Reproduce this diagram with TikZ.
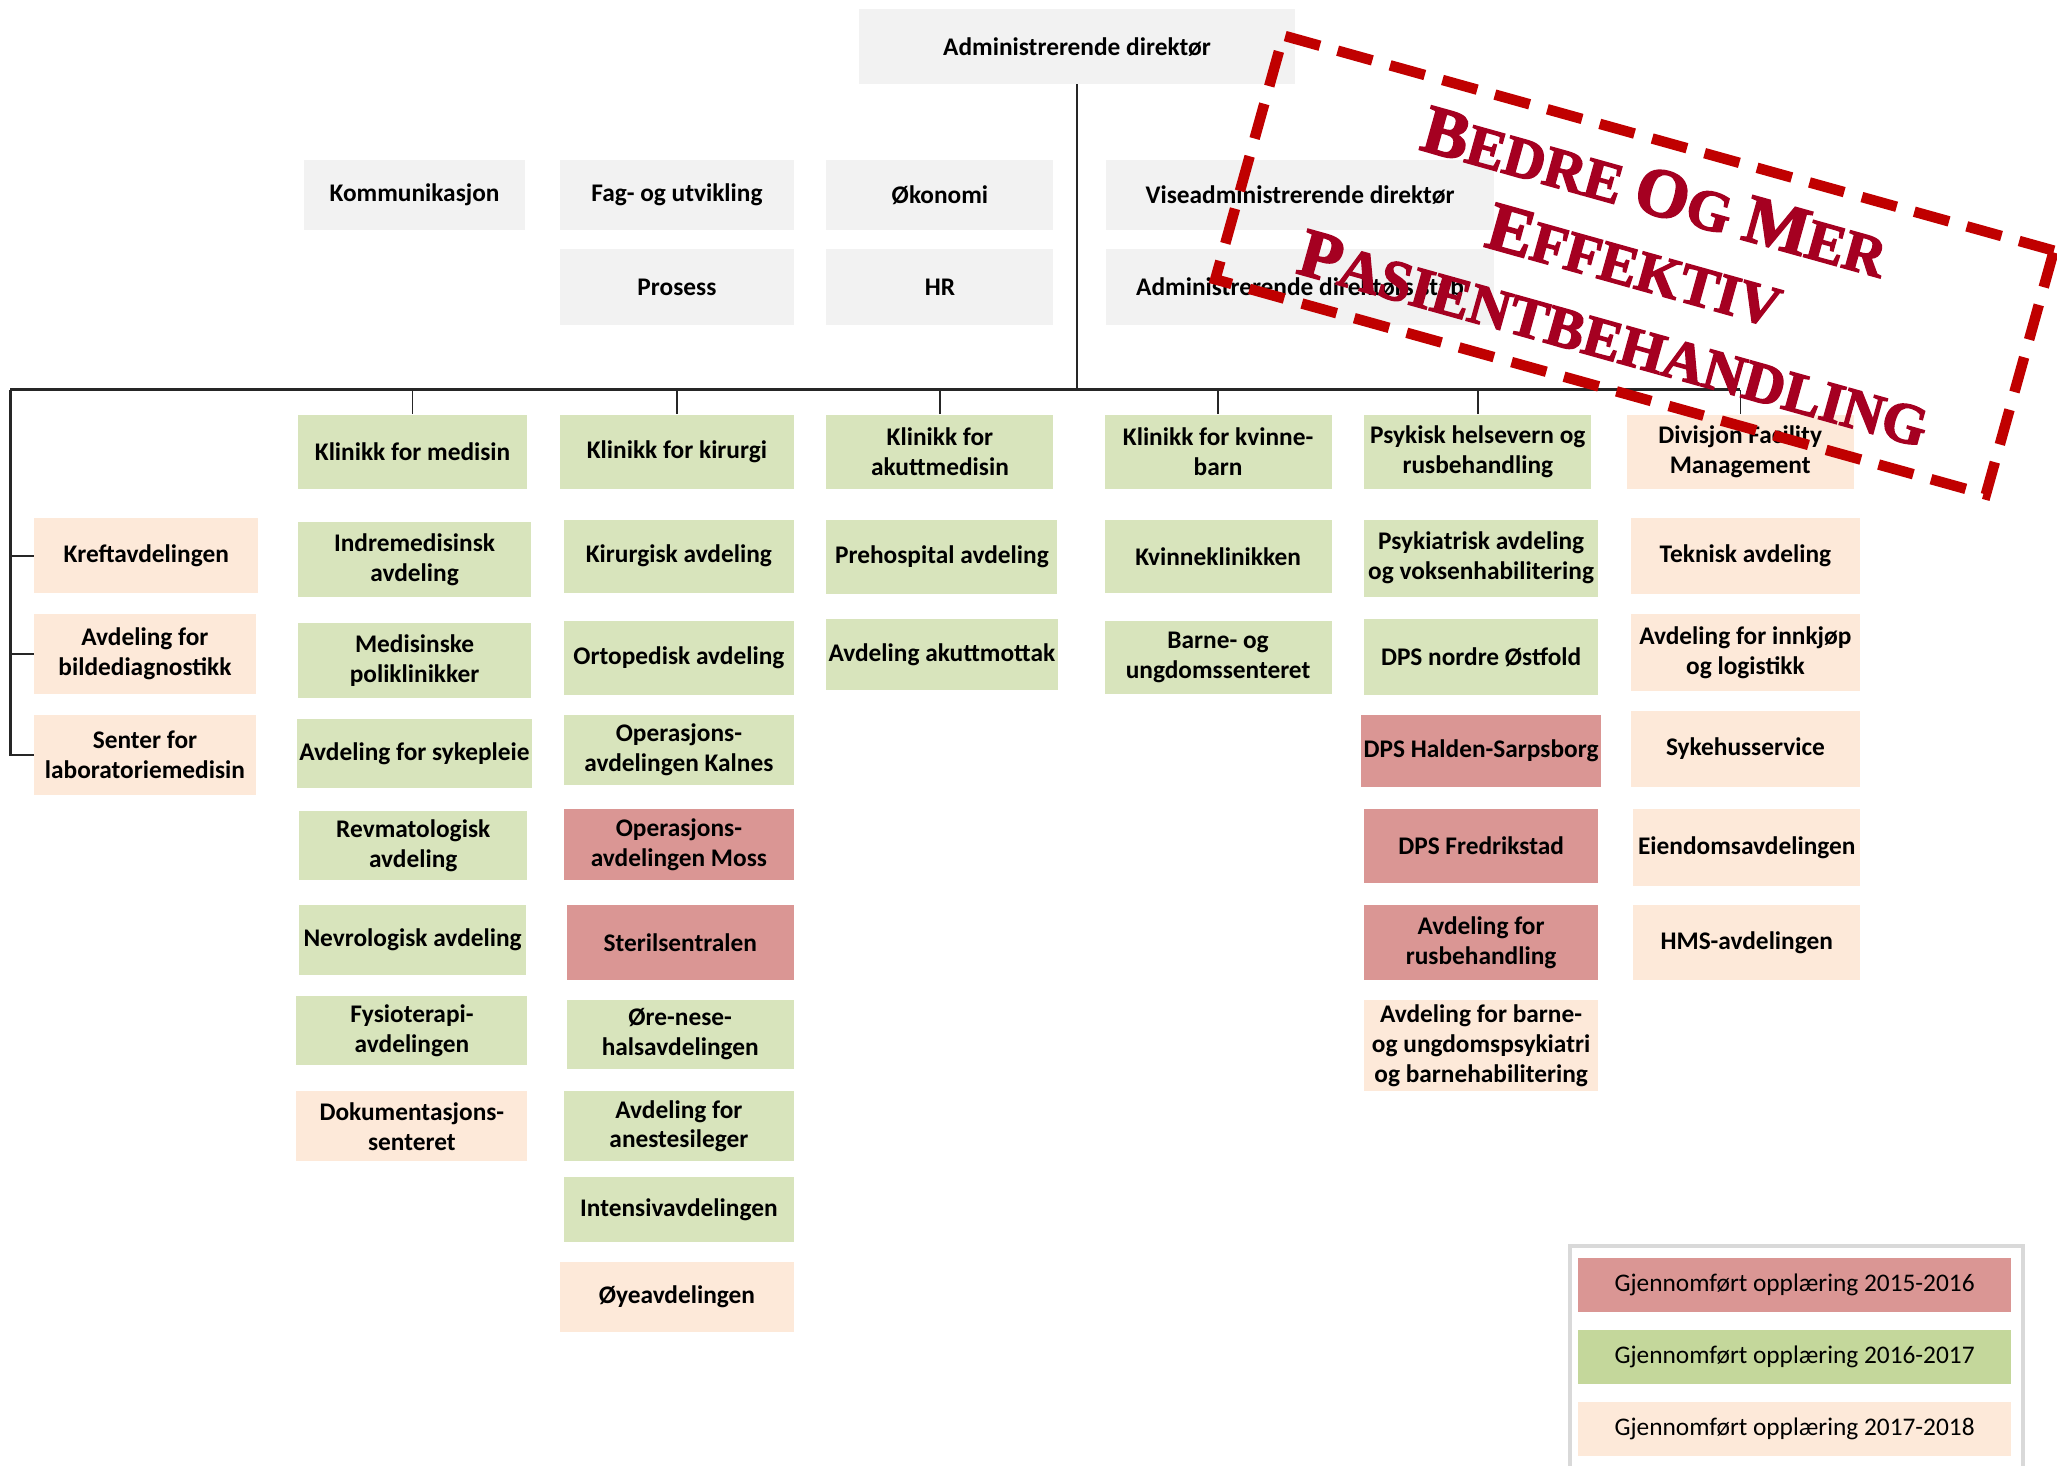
\documentclass[tikz,border=0pt]{standalone}
\usepackage{fontspec}
\setmainfont{Carlito}
\newfontfamily\stampfont{Liberation Serif}[BoldFeatures={FakeBold=2.5}]

\definecolor{staffgray}{HTML}{F2F2F2}
\definecolor{lightgreen}{HTML}{D8E4BC}
\definecolor{keygreen}{HTML}{C4D79B}
\definecolor{peach}{HTML}{FDE9D9}
\definecolor{rose}{HTML}{DA9694}
\definecolor{stampred}{HTML}{C00000}
\definecolor{stampink}{HTML}{A50021}

\newcommand{\stampcap}[1]{{\fontsize{30}{33}\selectfont #1}}

\tikzset{
  box/.style={rectangle, align=center, inner sep=1pt,
    minimum width=3.5cm, minimum height=1.12cm,
    font=\fontsize{11}{13}\selectfont\bfseries},
  wh/.style 2 args={minimum width=#1*0.02cm, minimum height=#2*0.02cm},
  gray box/.style={box, fill=staffgray},
  green box/.style={box, fill=lightgreen},
  red box/.style={box, fill=rose},
  peach box/.style={box, fill=peach},
  keybox/.style={rectangle, minimum width=6.6cm, minimum height=0.82cm,
    font=\fontsize{11}{13}\selectfont},
  orgline/.style={draw=black!85, line width=0.6pt},
}

\begin{document}
\begin{tikzpicture}[x=0.02cm, y=-0.02cm]
  \useasboundingbox (0, 0) rectangle (1568, 1117);

  % ledelse og stab
  \node[gray box, wh={332}{57}] at (821, 35.5)(adm){Administrerende direktør};
  \node[gray box, wh={168}{53}] at (316, 148.5)(kom){Kommunikasjon};
  \node[gray box, wh={178}{53}] at (516, 148.5)(fag){Fag- og utvikling};
  \node[gray box, wh={173}{53}] at (716.5, 148.5)(oko){Økonomi};
  \node[gray box, wh={296}{53}] at (991, 148.5)(vad){Viseadministrerende direktør};
  \node[gray box, wh={178}{58}] at (516, 219)(pros){Prosess};
  \node[gray box, wh={173}{58}] at (716.5, 219)(hr){HR};
  \node[gray box, wh={296}{58}] at (991, 219)(stab){Administrerende direktørs stab};

  % klinikker
  \node[green box, wh={175}{57}] at (314.5, 344.5)(med){Klinikk for medisin};
  \node[green box, wh={178}{57}] at (516, 344.5)(kir){Klinikk for kirurgi};
  \node[green box, wh={173}{57}] at (716.5, 344.5)(akutt){Klinikk for\\akuttmedisin};
  \node[green box, wh={173}{57}] at (928.5, 344.5)(kvb){Klinikk for kvinne-\\barn};
  \node[green box, wh={173}{57}] at (1126.5, 344.5)(psyk){Psykisk helsevern og\\rusbehandling};
  \node[peach box, wh={173}{57}] at (1326.5, 344.5)(fm){Divisjon Facility\\Management};

  % direkte under ledelsen
  \node[peach box, wh={171}{57}] at (111.5, 423.5)(kreft){Kreftavdelingen};
  \node[peach box, wh={169}{61}] at (110.5, 498.5)(bild){Avdeling for\\bildediagnostikk};
  \node[peach box, wh={169}{61}] at (110.5, 575.5)(lab){Senter for\\laboratoriemedisin};

  % medisin
  \node[green box, wh={177}{57}] at (316, 426.5)(indre){Indremedisinsk\\avdeling};
  \node[green box, wh={177}{57}] at (316, 503.5)(poli){Medisinske\\poliklinikker};
  \node[green box, wh={177}{53}] at (316, 574.5)(spl){Avdeling for sykepleie};
  \node[green box, wh={174}{53}] at (315, 644.5)(revma){Revmatologisk\\avdeling};
  \node[green box, wh={173}{53}] at (314.5, 716.5)(nevro){Nevrologisk avdeling};
  \node[green box, wh={176}{53}] at (314, 785.5)(fysio){Fysioterapi-\\avdelingen};
  \node[peach box, wh={176}{53}] at (314, 858.5)(dok){Dokumentasjons-\\senteret};

  % kirurgi
  \node[green box, wh={175}{56}] at (517.5, 424)(kirav){Kirurgisk avdeling};
  \node[green box, wh={175}{57}] at (517.5, 501.5)(orto){Ortopedisk avdeling};
  \node[green box, wh={175}{53}] at (517.5, 571.5)(opkal){Operasjons-\\avdelingen Kalnes};
  \node[red box, wh={175}{54}] at (517.5, 644)(opmoss){Operasjons-\\avdelingen Moss};
  \node[red box, wh={173}{57}] at (518.5, 718.5)(steril){Sterilsentralen};
  \node[green box, wh={173}{53}] at (518.5, 788.5)(onh){Øre-nese-\\halsavdelingen};
  \node[green box, wh={175}{53}] at (517.5, 858.5)(anest){Avdeling for\\anestesileger};
  \node[green box, wh={175}{50}] at (517.5, 922)(intens){Intensivavdelingen};
  \node[peach box, wh={178}{53}] at (516, 988.5)(oye){Øyeavdelingen};

  % akuttmedisin
  \node[green box, wh={176}{57}] at (718, 424.5)(prehosp){Prehospital avdeling};
  \node[green box, wh={176}{54}] at (718, 499)(mottak){Avdeling akuttmottak};

  % kvinne-barn
  \node[green box, wh={173}{56}] at (928.5, 424)(kvinne){Kvinneklinikken};
  \node[green box, wh={173}{56}] at (928.5, 501)(barn){Barne- og\\ungdomssenteret};

  % psykisk helsevern
  \node[green box, wh={178}{59}] at (1129, 425.5)(psykav){Psykiatrisk avdeling\\og voksenhabilitering};
  \node[green box, wh={178}{58}] at (1129, 501)(dpsno){DPS nordre Østfold};
  \node[red box, wh={178}{55}] at (1129, 572.5)(dpshs){DPS Halden-Sarpsborg};
  \node[red box, wh={178}{56}] at (1129, 645)(dpsfr){DPS Fredrikstad};
  \node[red box, wh={178}{57}] at (1129, 718.5)(rus){Avdeling for\\rusbehandling};
  \node[peach box, wh={178}{70}] at (1129, 797)(bup){Avdeling for barne-\\og ungdomspsykiatri\\og barnehabilitering};

  % facility management
  \node[peach box, wh={175}{58}] at (1330.5, 424)(tekn){Teknisk avdeling};
  \node[peach box, wh={175}{59}] at (1330.5, 497.5)(innkj){Avdeling for innkjøp\\og logistikk};
  \node[peach box, wh={175}{58}] at (1330.5, 571)(shs){Sykehusservice};
  \node[peach box, wh={173}{58}] at (1331.5, 646)(eiend){Eiendomsavdelingen};
  \node[peach box, wh={173}{57}] at (1331.5, 718.5)(hms){HMS-avdelingen};

  % linjer
  \coordinate (busL) at (8, 297);
  \draw[orgline, line width=1pt] (adm.south) -- (adm.south |- busL);
  \draw[orgline, line width=1.1pt] (busL) -- (fm.north |- busL);
  \foreach \k in {med, kir, akutt, kvb, psyk, fm}
    \draw[orgline] (\k.north) -- (\k.north |- busL);
  \draw[orgline, line width=0.9pt] (busL) |- (lab.west);
  \draw[orgline, line width=0.9pt] (busL |- kreft) -- (kreft.west);
  \draw[orgline, line width=0.9pt] (busL |- bild) -- (bild.west);

  % forklaring
  \draw[draw=black!15, line width=0.06cm] (1197, 1120) |- (1542, 950) -- (1542, 1120);
  \node[keybox, fill=rose] at (1368, 979.5)(leg1){Gjennomført opplæring 2015-2016};
  \node[keybox, fill=keygreen] at (1368, 1034.5)(leg2){Gjennomført opplæring 2016-2017};
  \node[keybox, fill=peach] at (1368, 1089.5)(leg3){Gjennomført opplæring 2017-2018};

  % stempel
  \node[draw=stampred, line width=0.16cm, dash pattern=on 0.55cm off 0.28cm,
    text=stampink, rotate=-15.6, minimum width=12.2cm, minimum height=3.86cm,
    align=center, font=\stampfont\bfseries\fontsize{25}{33}\selectfont]
    at (1246, 202)(stamp){\stampcap{B}EDRE \stampcap{O}G \stampcap{M}ER\\
      \stampcap{E}FFEKTIV\\\stampcap{P}ASIENTBEHANDLING};
\end{tikzpicture}
\end{document}
